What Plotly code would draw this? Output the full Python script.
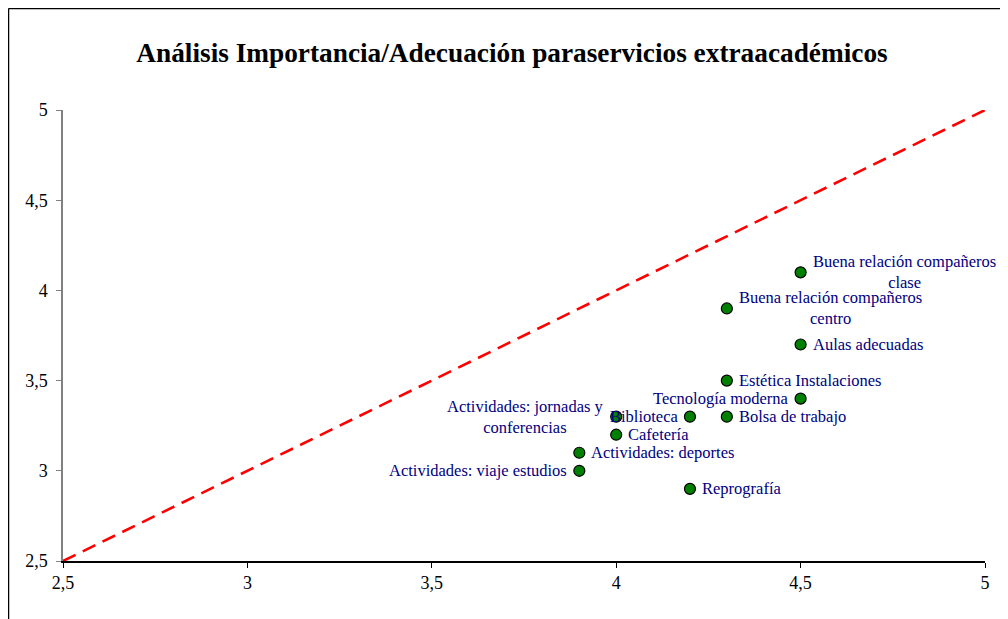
import plotly.graph_objects as go

# Data
labels = [
    "Buena relación compañeros<br>clase",
    "Buena relación compañeros<br>centro",
    "Aulas adecuadas",
    "Estética Instalaciones",
    "Tecnología moderna",
    "Bolsa de trabajo",
    "Biblioteca",
    "Actividades: jornadas y<br>conferencias",
    "Cafetería",
    "Actividades: deportes",
    "Actividades: viaje estudios",
    "Reprografía",
]
importancia = [4.5, 4.3, 4.5, 4.3, 4.5, 4.3, 4.2, 4.0, 4.0, 3.9, 3.9, 4.2]
adecuacion = [4.1, 3.9, 3.7, 3.5, 3.4, 3.3, 3.3, 3.3, 3.2, 3.1, 3.0, 2.9]
label_side = ["right", "right", "right", "right", "left", "right", "left", "left",
              "right", "right", "left", "right"]
ref_line = [2.5, 5]

serif = "Liberation Serif, Times New Roman, serif"
label_color = "#000080"

# page body has an 8px margin; figure starts at (8, 8) in the window
OFF = 8
W, H = 1008 - OFF, 619 - OFF
L, R, T, B = 63 - OFF, 23, 110 - OFF, 58
PW, PH = W - L - R, H - T - B

fig = go.Figure()
fig.add_trace(go.Scatter(
    x=ref_line, y=ref_line, mode="lines",
    line=dict(color="#ff0000", width=2.6, dash="14px,8px"),
    hoverinfo="skip", showlegend=False,
))
fig.add_trace(go.Scatter(
    x=importancia, y=adecuacion, mode="markers",
    marker=dict(color="#008000", size=11, line=dict(color="#000000", width=1.2)),
    showlegend=False,
))

for lab, x, y, side in zip(labels, importancia, adecuacion, label_side):
    fig.add_annotation(
        x=x, y=y, text=lab, showarrow=False,
        xanchor="left" if side == "right" else "right",
        yanchor="middle",
        xshift=10 if side == "right" else -10,
        align="center",
        font=dict(family=serif, size=16.5, color=label_color),
    )

# outer chart border (left and top visible)
bx = (0.5 - L) / PW
by = (H - 0.5 - B) / PH
fig.add_shape(type="line", xref="paper", yref="paper",
              x0=bx, x1=bx, y0=-B / PH - 0.05, y1=by,
              line=dict(color="#000000", width=1.5))
fig.add_shape(type="line", xref="paper", yref="paper",
              x0=bx, x1=1 + R / PW + 0.05, y0=by, y1=by,
              line=dict(color="#000000", width=1.5))

fig.update_layout(
    width=W, height=H,
    margin=dict(l=L, r=R, t=T, b=B),
    paper_bgcolor="white", plot_bgcolor="white",
    separators=", ",
    title=dict(
        text="<b>Análisis Importancia/Adecuación paraservicios extraacadémicos</b>",
        x=(512 - OFF) / W, xanchor="center", y=1 - (52 - OFF) / H, yanchor="middle",
        font=dict(family=serif, size=27.3, color="#000000"),
    ),
    font=dict(family=serif, size=16.5, color="#000000"),
    xaxis=dict(
        range=[2.5, 5], dtick=0.5, tick0=2.5, showgrid=False, zeroline=False,
        showline=True, linecolor="#000000", linewidth=1.5,
        ticks="outside", ticklen=5, tickcolor="#000000", tickwidth=1,
        tickfont=dict(family=serif, size=18, color="#000000"),
    ),
    yaxis=dict(
        range=[2.5, 5], dtick=0.5, tick0=2.5, showgrid=False, zeroline=False,
        showline=True, linecolor="#808080", linewidth=1.5,
        ticks="outside", ticklen=5, tickcolor="#808080", tickwidth=1,
        ticklabelstandoff=5,
        tickfont=dict(family=serif, size=18, color="#000000"),
    ),
)

fig.write_html("out.html")
